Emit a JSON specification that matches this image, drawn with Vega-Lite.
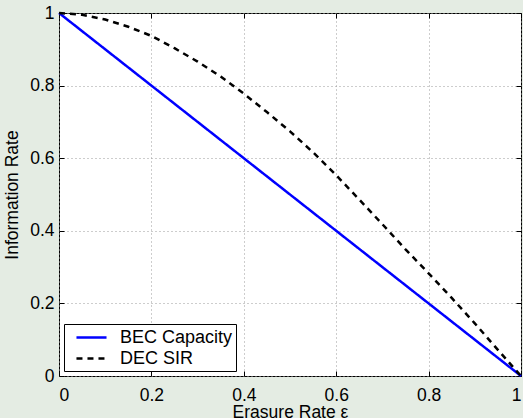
{
  "$schema": "https://vega.github.io/schema/vega-lite/v6.json",
  "width": 462,
  "height": 363,
  "autosize": {"type": "none"},
  "padding": {"left": 59, "top": 13, "right": 2, "bottom": 42},
  "background": "#e4ece3",
  "config": {
    "font": "Liberation Sans",
    "view": {"stroke": "black", "strokeWidth": 1, "fill": "white"},
    "axis": {
      "labelFont": "Liberation Sans",
      "labelFontSize": 17.5,
      "labelColor": "black",
      "titleFont": "Liberation Sans",
      "titleFontSize": 17.5,
      "titleFontWeight": "normal",
      "titleColor": "black",
      "domain": false,
      "tickColor": "black",
      "tickSize": -5,
      "tickWidth": 1,
      "gridColor": "#9a9a9a",
      "gridDash": [1, 3],
      "gridWidth": 1,
      "gridOpacity": 1
    },
    "legend": {
      "orient": "bottom-left",
      "offset": 5,
      "fillColor": "white",
      "strokeColor": "black",
      "padding": 3,
      "cornerRadius": 0,
      "labelFont": "Liberation Sans",
      "labelFontSize": 18,
      "labelColor": "black",
      "symbolType": "M-1.67,0H1.67",
      "symbolSize": 324,
      "symbolStrokeWidth": 2.5,
      "symbolOffset": 14,
      "labelOffset": 18,
      "rowPadding": 1
    }
  },
  "data": {
    "values": [
      {"series": "BEC Capacity", "eps": 0, "rate": 1},
      {"series": "BEC Capacity", "eps": 1, "rate": 0},
      {"series": "DEC SIR", "eps": 0, "rate": 1},
      {"series": "DEC SIR", "eps": 0.05, "rate": 0.995},
      {"series": "DEC SIR", "eps": 0.1, "rate": 0.982},
      {"series": "DEC SIR", "eps": 0.15, "rate": 0.962},
      {"series": "DEC SIR", "eps": 0.2, "rate": 0.937},
      {"series": "DEC SIR", "eps": 0.25, "rate": 0.903},
      {"series": "DEC SIR", "eps": 0.3, "rate": 0.866},
      {"series": "DEC SIR", "eps": 0.35, "rate": 0.825},
      {"series": "DEC SIR", "eps": 0.4, "rate": 0.778},
      {"series": "DEC SIR", "eps": 0.45, "rate": 0.727},
      {"series": "DEC SIR", "eps": 0.5, "rate": 0.674},
      {"series": "DEC SIR", "eps": 0.55, "rate": 0.616},
      {"series": "DEC SIR", "eps": 0.6, "rate": 0.553},
      {"series": "DEC SIR", "eps": 0.65, "rate": 0.486},
      {"series": "DEC SIR", "eps": 0.7, "rate": 0.418},
      {"series": "DEC SIR", "eps": 0.75, "rate": 0.349},
      {"series": "DEC SIR", "eps": 0.8, "rate": 0.283},
      {"series": "DEC SIR", "eps": 0.85, "rate": 0.215},
      {"series": "DEC SIR", "eps": 0.9, "rate": 0.145},
      {"series": "DEC SIR", "eps": 0.95, "rate": 0.072},
      {"series": "DEC SIR", "eps": 1, "rate": 0}
    ]
  },
  "layer": [
    {
      "mark": {"type": "line", "strokeWidth": 2.5},
      "encoding": {
        "x": {
          "field": "eps", "type": "quantitative",
          "scale": {"domain": [0, 1], "nice": false},
          "axis": {"orient": "bottom", "title": "Erasure Rate ε", "values": [0, 0.2, 0.4, 0.6, 0.8, 1], "labelExpr": "format(datum.value, '~g')", "labelPadding": 15, "titlePadding": 0, "grid": true}
        },
        "y": {
          "field": "rate", "type": "quantitative",
          "scale": {"domain": [0, 1], "nice": false},
          "axis": {"orient": "left", "title": "Information Rate", "values": [0, 0.2, 0.4, 0.6, 0.8, 1], "labelExpr": "format(datum.value, '~g')", "labelPadding": 10, "titlePadding": 8, "grid": true}
        },
        "color": {
          "field": "series", "type": "nominal", "title": null,
          "scale": {"domain": ["BEC Capacity", "DEC SIR"], "range": ["#0000ff", "#000000"]}
        },
        "strokeDash": {
          "field": "series", "type": "nominal", "title": null,
          "scale": {"domain": ["BEC Capacity", "DEC SIR"], "range": [[1, 0], [6, 5]]}
        }
      }
    },
    {
      "mark": {"type": "line", "opacity": 0},
      "encoding": {
        "x": {"field": "eps", "type": "quantitative", "axis": {"orient": "top", "labels": false, "title": null, "grid": false, "values": [0, 0.2, 0.4, 0.6, 0.8, 1]}},
        "y": {"field": "rate", "type": "quantitative", "axis": {"orient": "right", "labels": false, "title": null, "grid": false, "values": [0, 0.2, 0.4, 0.6, 0.8, 1]}},
        "detail": {"field": "series", "type": "nominal"}
      }
    }
  ],
  "resolve": {"axis": {"x": "independent", "y": "independent"}}
}
